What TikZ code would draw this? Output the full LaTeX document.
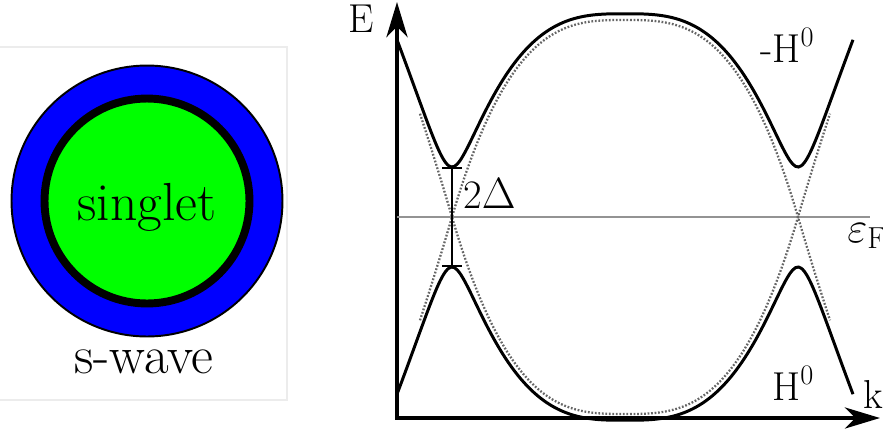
\documentclass[tikz,border=0pt]{standalone}
\usetikzlibrary{arrows.meta}

\begin{document}
\begin{tikzpicture}[
            x=0.02cm, y=-0.02cm,
            declare function={
              bandg(\u)=ifthenelse(abs(\u)<173, 1.97*(1-(abs(\u)/173)*(abs(\u)/173)*(abs(\u)/173)), -0.03416*(abs(\u)-173)+0.592*((abs(\u)-173)/100)*((abs(\u)-173)/100));
              gapE(\u)=sqrt(bandg(\u)*bandg(\u)+0.25);
            },
            txt/.style={font=\fontsize{23}{26}\selectfont, inner sep=0pt},
            bigtxt/.style={font=\fontsize{30.5}{34}\selectfont, inner sep=0pt},
            shell/.style={circle, draw, line width=1.1pt, fill=blue, minimum size=5.42cm, inner sep=0pt},
            core/.style={circle, draw, line width=4.5pt, fill=green, minimum size=4.1cm, inner sep=0pt},
            frame/.style={gray!15, line width=0.6pt},
            axis/.style={line width=2.3pt, {Stealth[length=20pt, width=12pt, inset=6pt]}-{Stealth[length=20pt, width=12pt, inset=6pt]}},
            band/.style={line width=1.7pt, smooth, samples=160, domain=397:853},
            bare/.style={line width=1.3pt, black!60, dash pattern=on 1pt off 1pt, smooth, samples=120, domain=420:830},
            fermi/.style={line width=0.6pt, gray!85},
            gapbar/.style={line width=1.1pt, {Bar[width=11pt]}-{Bar[width=11pt]}}
        ]
            \useasboundingbox (0,0) rectangle (883,434);

            % --- 1. pairing sketch ---
            \draw[frame] (0,47) -- (287,47) -- (287,400) -- (0,400);
            \node[shell] (swave) at (147,201) {};
            \node[core] (singlet) at (147,201) {};
            \node[bigtxt, anchor=base] (singlettxt) at (147,220) {singlet};
            \node[bigtxt, anchor=base] (swavetxt) at (144,373) {s-wave};

            % --- 2. axes ---
            \coordinate (origin) at (397,418);
            \coordinate (etip) at (397,2);
            \coordinate (ktip) at (880,418);
            \draw[axis] (etip) -- (origin) -- (ktip);
            \node[txt, anchor=base] (elabel) at (361,32) {E};
            \node[txt, anchor=base west] (klabel) at (863,408) {k};

            \coordinate (fermiL) at (397,217);
            \coordinate (fermiR) at (870,217);
            \draw[fermi] (fermiL) -- (fermiR);
            \node[txt, anchor=base west] (eflabel) at (847,242) {$\varepsilon_{\mathrm{F}}$};

            % --- 3. bands ---
            \draw[bare] plot (\x, {217-100*bandg(\x-625)});
            \draw[bare] plot (\x, {217+100*bandg(\x-625)});
            \draw[band] plot (\x, {217-100*gapE(\x-625)});
            \draw[band] plot (\x, {217+100*gapE(\x-625)});
            \node[txt, anchor=base west] (holelabel) at (760,62) {-H\textsuperscript{0}};
            \node[txt, anchor=base west] (partlabel) at (772,400) {H\textsuperscript{0}};

            % --- 4. gap ---
            \coordinate (gaptop) at (452,167);
            \coordinate (gapbot) at (452,267);
            \draw[gapbar] (gaptop) -- (gapbot);
            \node[txt, anchor=base west] (gaplabel) at (463,208) {2$\Delta$};

        \end{tikzpicture}
\end{document}
